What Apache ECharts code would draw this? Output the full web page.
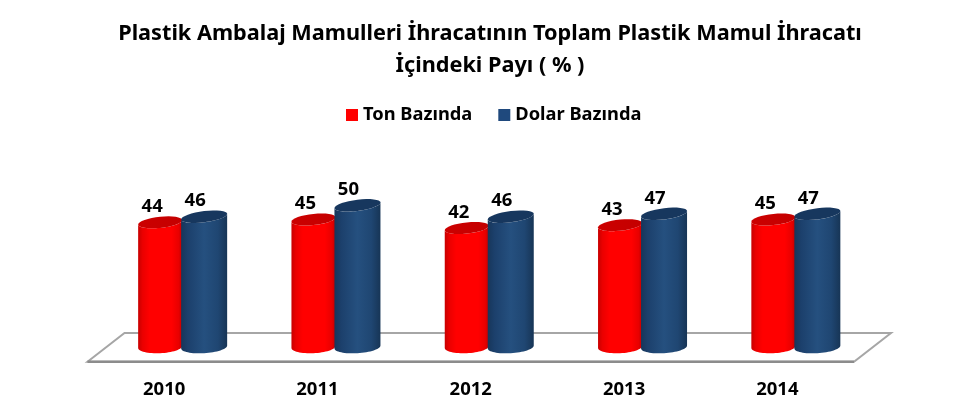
<!DOCTYPE html>
<html>
<head>
<meta charset="utf-8">
<style>html,body{margin:0;padding:0;background:#fff}#c{width:980px;height:419px}</style>
<script src="https://cdn.jsdelivr.net/npm/echarts@6/dist/echarts.min.js"></script>
</head>
<body>
<div id="c"></div>
<script>
const categories = ['2010', '2011', '2012', '2013', '2014'];
const tonValues = [44, 45, 42, 43, 45];
const dolarValues = [46, 50, 46, 47, 47];
const titleText = 'Plastik Ambalaj Mamulleri İhracatının Toplam Plastik Mamul İhracatı\nİçindeki Payı ( % )';
const FONT = '"Noto Sans"';

const chart = echarts.init(document.getElementById('c'), null, { renderer: 'canvas' });

function shade(stops) {
  return { type: 'linear', x: 0, y: 0, x2: 1, y2: 0,
    colorStops: stops.map(s => ({ offset: s[0], color: s[1] })) };
}
function arc(cx, cy, a, b, rise, t0, t1) {
  const pts = [];
  const n = 32;
  for (let i = 0; i <= n; i++) {
    const t = t0 + (t1 - t0) * i / n;
    const c = Math.cos(t);
    pts.push([cx + a * c, cy + b * Math.sin(t) - rise * c]);
  }
  return pts;
}
function cylinder(style) {
  return function (params, api) {
    const base = api.coord([api.value(0), 0]);
    const top = api.coord([api.value(0), api.value(1)]);
    const cx = base[0] + style.dx;
    const a = style.width / 2;
    const b = 5.6;
    const bodyPts = arc(cx, top[1], a, b, style.riseTop, Math.PI, 0)
      .concat(arc(cx, base[1], a, b + 0.6, style.riseBottom, 0, Math.PI));
    return {
      type: 'group',
      children: [
        { type: 'polygon', shape: { points: bodyPts }, style: { fill: shade(style.body) } },
        { type: 'polygon', shape: { points: arc(cx, top[1], a, b, style.riseTop, 0, Math.PI * 2) },
          style: { fill: shade(style.cap) } },
        { type: 'text', x: cx + style.labelDx, y: top[1] - 15.5,
          style: { text: String(api.value(1)), fontFamily: FONT, fontWeight: 'bold', fontSize: 18.5,
            fill: '#000', align: 'center', verticalAlign: 'middle' } }
      ]
    };
  };
}
const redStyle = { dx: -4, width: 44, riseTop: 2.2, riseBottom: 1, labelDx: -8,
  body: [[0, '#c80000'], [0.1, '#ea0000'], [0.26, '#ff0000'], [0.76, '#ff0000'], [0.92, '#e80000'], [1, '#c00000']],
  cap: [[0, '#cc0000'], [1, '#c40000']] };
const blueStyle = { dx: 40, width: 46, riseTop: 2.8, riseBottom: 1.4, labelDx: -9,
  body: [[0, '#17365a'], [0.15, '#1c406c'], [0.5, '#25507f'], [0.8, '#1f4672'], [1, '#173556']],
  cap: [[0, '#17375e'], [1, '#17375e']] };

function floor(params, api) {
  const g = params.coordSys;
  const bottom = g.y + g.height;
  const yBack = bottom - 14;
  const yFront = bottom + 14.7;
  const depth = 37;
  return {
    type: 'group',
    children: [
      { type: 'polygon',
        shape: { points: [[g.x, yFront], [g.x + depth, yBack], [g.x + g.width + depth, yBack], [g.x + g.width, yFront]] },
        style: { fill: '#fff', stroke: '#a6a6a6', lineWidth: 2 } },
      { type: 'line', shape: { x1: g.x, y1: yFront, x2: g.x + g.width, y2: yFront },
        style: { stroke: '#8c8c8c', lineWidth: 2.5 } }
    ]
  };
}

chart.setOption({
  animation: false,
  backgroundColor: '#fff',
  title: {
    text: titleText, left: 485, top: 13, textAlign: 'center',
    textStyle: { fontFamily: FONT, fontWeight: 'bold', fontSize: 21.7, lineHeight: 32, color: '#000' }
  },
  legend: {
    top: 101, left: 341, itemWidth: 12, itemHeight: 12, itemGap: 26,
    icon: 'rect', data: ['Ton Bazında', 'Dolar Bazında'], selectedMode: false,
    textStyle: { fontFamily: FONT, fontWeight: 'bold', fontSize: 18.3, color: '#000' }
  },
  grid: { left: 87.5, right: 126, top: 177, height: 170 },
  xAxis: {
    type: 'category', data: categories,
    axisLine: { show: false }, axisTick: { show: false }, splitLine: { show: false },
    axisLabel: { margin: 33, fontFamily: FONT, fontWeight: 'bold', fontSize: 18.5, color: '#000' }
  },
  yAxis: { type: 'value', min: 0, max: 60, show: false },
  series: [
    { name: 'floor', type: 'custom', silent: true, z: 1, data: [[0, 0]], renderItem: floor },
    { name: 'Ton Bazında', type: 'custom', z: 2, itemStyle: { color: '#ff0000' },
      encode: { x: 0, y: 1 }, data: categories.map((c, i) => [i, tonValues[i]]), renderItem: cylinder(redStyle) },
    { name: 'Dolar Bazında', type: 'custom', z: 3, itemStyle: { color: '#1f497d' },
      encode: { x: 0, y: 1 }, data: categories.map((c, i) => [i, dolarValues[i]]), renderItem: cylinder(blueStyle) }
  ]
});
</script>
</body>
</html>
